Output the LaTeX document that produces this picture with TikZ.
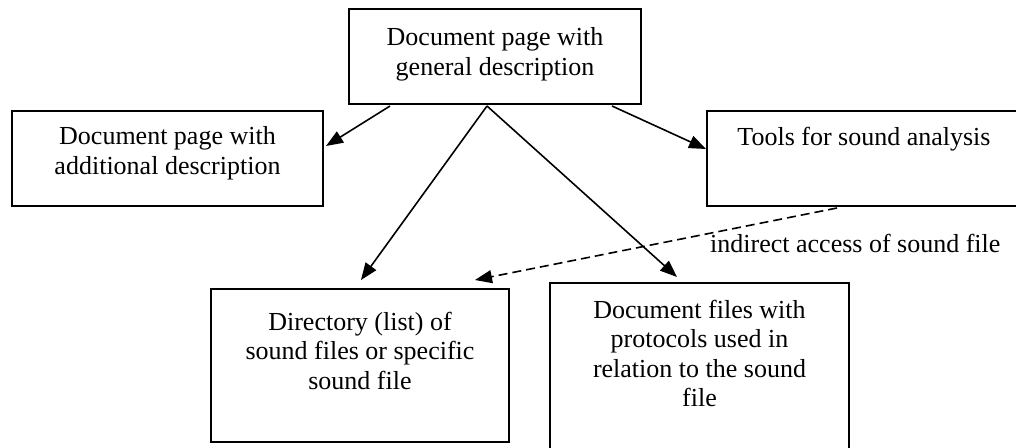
\documentclass[tikz,border=0pt]{standalone}
\usepackage{fontspec}
\setmainfont{Liberation Serif}
\usetikzlibrary{arrows.meta,calc}
\begin{document}
\begin{tikzpicture}[x=1pt,y=-1pt,
  box/.style={draw,line width=2pt,rectangle,inner sep=0pt,fill=white},
  txt/.style={anchor=base,align=center,inner sep=0pt,font=\fontsize{26}{29.5}\selectfont},
  arr/.style={line width=1.6pt,-{Triangle[length=17pt,width=13pt]}},
  darr/.style={arr,dash pattern=on 9pt off 5pt}]
\useasboundingbox[fill=white] (0,0) rectangle (1016,447);
\node[box,minimum width=292pt,minimum height=95pt] (top) at (495,56.5) {};
\node[box,minimum width=311pt,minimum height=95pt] (left) at (167.5,158.5) {};
\node[box,minimum width=314pt,minimum height=95pt] (right) at (864,158.5) {};
\node[box,minimum width=298pt,minimum height=153pt] (bl) at (360,365.5) {};
\node[box,minimum width=299pt,minimum height=187pt] (br) at (699.5,376.5) {};
\node[txt] (toptxt) at (495,75) {Document page with\\general description};
\node[txt] (lefttxt) at (167.5,174) {Document page with\\additional description};
\node[txt] (righttxt) at (864,145) {Tools for sound analysis};
\node[txt] (bltxt) at (360,389) {Directory (list) of\\sound files or specific\\sound file};
\node[txt] (brtxt) at (699.5,406.5) {Document files with\\protocols used in\\relation to the sound\\file};
\node[txt,anchor=base west] (dlabel) at (710,252) {indirect access of sound file};
\draw[arr] ($(top.south west)+(42,1)$) -- ($(left.north east)+(2,36)$);
\draw[arr] ($(top.south west)+(139,1)$) -- ($(bl.north west)+(151,-8)$);
\draw[arr] ($(top.south west)+(139,1)$) -- ($(br.north west)+(128,-5)$);
\draw[arr] ($(top.south west)+(264,1)$) -- ($(right.north west)+(0,39)$);
\draw[darr] ($(right.south west)+(131,1)$) -- ($(bl.north west)+(265,-8)$);
\end{tikzpicture}
\end{document}
